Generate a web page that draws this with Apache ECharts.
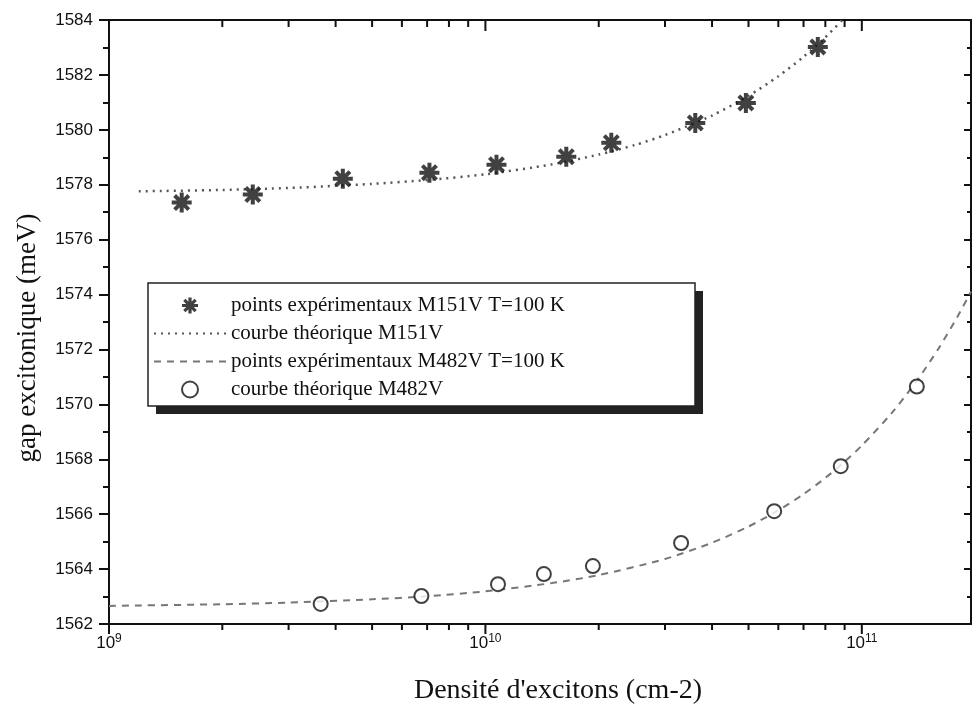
<!DOCTYPE html>
<html>
<head>
<meta charset="utf-8">
<script src="https://cdn.jsdelivr.net/npm/echarts@6/dist/echarts.min.js"></script>
<style>
html,body{margin:0;padding:0;background:#fff;}
#chart{width:974px;height:710px;}
</style>
</head>
<body>
<div id="chart"></div>
<script>
// ---- data ----
const starDensity = [1.56e9, 2.41e9, 4.18e9, 7.10e9, 1.07e10, 1.64e10, 2.16e10, 3.61e10, 4.92e10, 7.64e10];
const starGap     = [1577.35, 1577.64, 1578.22, 1578.44, 1578.73, 1579.02, 1579.53, 1580.25, 1580.98, 1583.02];

const curve1Density = [1.2e9, 2e9, 3e9, 4e9, 5e9, 7e9, 1e10, 1.5e10, 2e10, 2.5e10, 3e10, 4e10, 5e10, 6e10, 7e10, 8e10, 9e10];
const curve1Gap     = [1577.76, 1577.81, 1577.88, 1577.96, 1578.03, 1578.17, 1578.38, 1578.74, 1579.10, 1579.45, 1579.81, 1580.52, 1581.24, 1581.95, 1582.66, 1583.37, 1584.09];

const circleDensity = [3.65e9, 6.76e9, 1.08e10, 1.43e10, 1.93e10, 3.31e10, 5.85e10, 8.79e10, 1.40e11];
const circleGap     = [1562.73, 1563.02, 1563.45, 1563.82, 1564.11, 1564.95, 1566.11, 1567.75, 1570.65];

const curve2Density = [1e9, 2e9, 3e9, 5e9, 7e9, 1e10, 1.5e10, 2e10, 3e10, 4e10, 5e10, 6e10, 7e10, 8e10, 9e10, 1e11, 1.2e11, 1.4e11, 1.6e11, 1.8e11, 1.95e11];
const curve2Gap     = [1562.66, 1562.72, 1562.78, 1562.90, 1563.01, 1563.19, 1563.49, 1563.78, 1564.37, 1564.96, 1565.55, 1566.14, 1566.73, 1567.32, 1567.91, 1568.50, 1569.68, 1570.86, 1572.04, 1573.22, 1574.11];

const seriesNames = [
  'points expérimentaux M151V T=100 K',
  'courbe théorique M151V',
  'points expérimentaux M482V T=100 K',
  'courbe théorique M482V'
];

const xMajorTicks = [1e9, 1e10, 1e11];
const xMinorTicks = [2e9,3e9,4e9,5e9,6e9,7e9,8e9,9e9, 2e10,3e10,4e10,5e10,6e10,7e10,8e10,9e10];
const xMin = 1e9, xMax = 1.95e11;
const yMin = 1562, yMax = 1584, yStep = 2;

// ---- helpers ----
const zip = (a, b) => a.map((v, i) => [v, b[i]]);
const starPath = 'path://M-10,-2L10,-2L10,2L-10,2Z' +
  'M2,-10L2,10L-2,10L-2,-10Z' +
  'M-5.66,-8.49L8.49,5.66L5.66,8.49L-8.49,-5.66Z' +
  'M8.49,-5.66L-5.66,8.49L-8.49,5.66L5.66,-8.49Z';

const tickData = xMajorTicks.map(v => [v, 1]).concat(xMinorTicks.map(v => [v, 0]));

const chart = echarts.init(document.getElementById('chart'), null, {renderer: 'canvas'});

const sansFont = 'Liberation Sans';
const serifFont = 'Liberation Serif';

chart.setOption({
  backgroundColor: '#ffffff',
  animation: false,
  grid: {left: 109, top: 20, width: 863, height: 605, containLabel: false},
  xAxis: [
    {
      type: 'log', logBase: 10, min: xMin, max: xMax, position: 'bottom',
      axisLine: {show: true, lineStyle: {color: '#111', width: 2}},
      axisTick: {show: false},
      splitLine: {show: false},
      axisLabel: {
        margin: 9, color: '#111',
        formatter: function (v) {
          const e = Math.log10(v); const r = Math.round(e);
          if (Math.abs(e - r) > 1e-6) return '';
          return '{b|10}{s|' + r + '}';
        },
        rich: {
          b: {fontSize: 17, fontFamily: sansFont, color: '#111'},
          s: {fontSize: 12, fontFamily: sansFont, color: '#111', padding: [0, 0, 9, 0]}
        }
      },
      name: "Densité d'excitons (cm-2)",
      nameLocation: 'middle', nameGap: 53,
      nameTextStyle: {fontFamily: serifFont, fontSize: 28, color: '#111', padding: [0, 0, 0, 36]}
    },
    {
      type: 'log', logBase: 10, min: xMin, max: xMax, position: 'top',
      axisLine: {show: true, lineStyle: {color: '#111', width: 2}},
      axisTick: {show: false}, axisLabel: {show: false}, splitLine: {show: false}
    }
  ],
  yAxis: [
    {
      type: 'value', min: yMin, max: yMax, interval: yStep, position: 'left',
      axisLine: {show: true, lineStyle: {color: '#111', width: 2}},
      axisTick: {show: true, inside: false, length: 10, lineStyle: {color: '#111', width: 2}},
      minorTick: {show: true, splitNumber: 2, length: 6, lineStyle: {color: '#111', width: 2}},
      splitLine: {show: false},
      axisLabel: {margin: 16, color: '#111', fontFamily: sansFont, fontSize: 17,
        formatter: function (v) { return String(v); }},
      name: 'gap excitonique (meV)', nameLocation: 'middle', nameGap: 68, nameRotate: 90,
      nameTextStyle: {fontFamily: serifFont, fontSize: 27, color: '#111', padding: [0, 32, 0, 0]}
    },
    {
      type: 'value', min: yMin, max: yMax, interval: yStep, position: 'right',
      axisLine: {show: true, lineStyle: {color: '#111', width: 2}},
      axisTick: {show: true, inside: true, length: 7, lineStyle: {color: '#111', width: 2}},
      minorTick: {show: true, splitNumber: 2, length: 4, lineStyle: {color: '#111', width: 2}},
      splitLine: {show: false}, axisLabel: {show: false}
    }
  ],
  legend: {
    orient: 'vertical', left: 148, top: 290, z: 5,
    itemWidth: 72, itemHeight: 16, itemGap: 7,
    data: [
      {name: seriesNames[0]},
      {name: seriesNames[1], itemStyle: {opacity: 0}},
      {name: seriesNames[2], itemStyle: {opacity: 0}},
      {name: seriesNames[3]}
    ],
    textStyle: {fontFamily: serifFont, fontSize: 21, color: '#111'},
    inactiveColor: '#111'
  },
  graphic: [
    {type: 'rect', z: 3, shape: {x: 156, y: 291, width: 547, height: 123}, style: {fill: '#222'}},
    {type: 'rect', z: 3, shape: {x: 148, y: 283, width: 547, height: 123}, style: {fill: '#fff', stroke: '#222', lineWidth: 1.5}}
  ],
  series: [
    {
      name: seriesNames[0], type: 'scatter', data: zip(starDensity, starGap),
      symbol: starPath, symbolSize: 20, itemStyle: {color: '#111'}, z: 4
    },
    {
      name: seriesNames[1], type: 'line', data: zip(curve1Density, curve1Gap),
      symbol: 'none', smooth: 0.25,
      lineStyle: {type: [2, 5], width: 2.5, color: '#555'}, itemStyle: {color: '#555'}, z: 3
    },
    {
      name: seriesNames[2], type: 'line', data: zip(curve2Density, curve2Gap),
      symbol: 'none', smooth: 0.25,
      lineStyle: {type: [7, 6], width: 2, color: '#777'}, itemStyle: {color: '#777'}, z: 3
    },
    {
      name: seriesNames[3], type: 'scatter', data: zip(circleDensity, circleGap),
      symbol: 'emptyCircle', symbolSize: 14,
      itemStyle: {color: '#111', borderColor: '#111', borderWidth: 2.2}, z: 4
    },
    {
      type: 'custom', name: 'xticks', data: tickData, clip: false, silent: true, z: 5,
      encode: {x: 0},
      renderItem: function (params, api) {
        const v = api.value(0);
        const major = api.value(1) === 1;
        const pb = api.coord([v, yMin]);
        const pt = api.coord([v, yMax]);
        const lb = major ? 10 : 6;
        const lt = major ? 11 : 7;
        const st = {stroke: '#111', lineWidth: 2};
        return {
          type: 'group',
          children: [
            {type: 'line', shape: {x1: pb[0], y1: pb[1], x2: pb[0], y2: pb[1] + lb}, style: st},
            {type: 'line', shape: {x1: pt[0], y1: pt[1], x2: pt[0], y2: pt[1] + lt}, style: st}
          ]
        };
      }
    }
  ]
});
</script>
</body>
</html>
